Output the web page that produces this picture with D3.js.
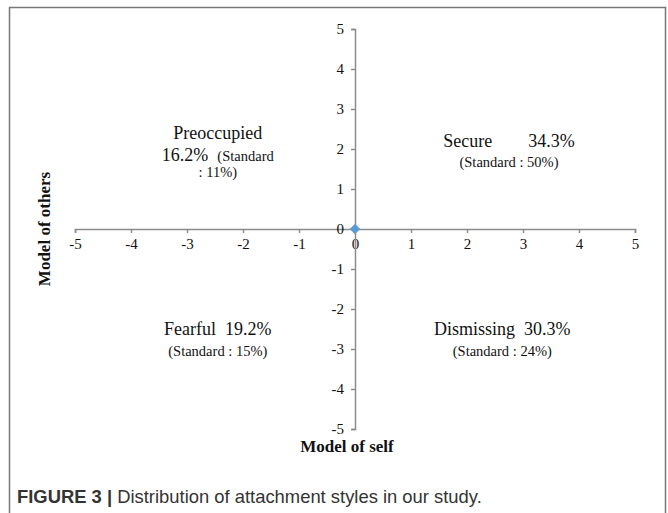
<!DOCTYPE html>
<html lang="en">
<head>
<meta charset="UTF-8">
<title>Attachment styles</title>
<style>
body { margin: 0; background: #fff; }
.serif { font-family: 'Liberation Serif', 'Times New Roman', serif; fill: #111; }
.caption { font-family: 'Liberation Sans', Arial, sans-serif; fill: #333; }
</style>
</head>
<body>
<div id="vis"></div>
<script src="https://d3js.org/d3.v7.min.js"></script>
<script>
const xTicks = [-5, -4, -3, -2, -1, 0, 1, 2, 3, 4, 5];
const yTicks = [-5, -4, -3, -2, -1, 0, 1, 2, 3, 4, 5];
const points = [[0, 0]];
const styles = ['Preoccupied', 'Secure', 'Fearful', 'Dismissing'];
const shares = ['16.2%', '34.3%', '19.2%', '30.3%'];
const standards = ['11%', '50%', '15%', '24%'];
// where each label sits, in chart units
const labelX = [-2.45, 2.75, -2.45, 2.63];
const labelY = [2.4, 2.2, -2.5, -2.5];

const width = 668;
const height = 513;

let svg = d3.select("#vis").append("svg")
    .attr("width", width)
    .attr("height", height);

svg.append("rect")
    .attr("x", 9.5).attr("y", 7.5)
    .attr("width", 656).attr("height", 520)
    .attr("fill", "none")
    .attr("stroke", "#777")
    .attr("stroke-width", 1.5);

let xScale = d3.scaleLinear().domain([-5, 5]).range([75, 635]);
let yScale = d3.scaleLinear().domain([-5, 5]).range([429, 29]);

let xAxis = svg.append("g")
    .attr("transform", "translate(0," + yScale(0) + ")")
    .call(d3.axisBottom(xScale).tickValues(xTicks).tickSize(4).tickSizeOuter(4).tickPadding(5).tickFormat(d => String(d)));

let yAxis = svg.append("g")
    .attr("transform", "translate(" + xScale(0) + ",0)")
    .call(d3.axisLeft(yScale).tickValues(yTicks).tickSize(4).tickSizeOuter(4).tickPadding(7).tickFormat(d => String(d)));

svg.selectAll(".domain, .tick line")
    .attr("stroke", "#8c8c8c")
    .attr("stroke-width", 1.5);
svg.selectAll(".tick text")
    .style("font-family", "'Liberation Serif', 'Times New Roman', serif")
    .style("font-size", "15px")
    .style("fill", "#111");

svg.selectAll(".pt")
    .data(points)
    .enter().append("path")
    .attr("class", "pt")
    .attr("d", d3.symbol().type(d3.symbolDiamond2).size(70))
    .attr("transform", d => "translate(" + xScale(d[0]) + "," + yScale(d[1]) + ")")
    .attr("fill", "#5b9bd5");

// quadrant labels
function lineAt(i, dy, txt, size) {
  svg.append("text")
    .attr("class", "serif")
    .attr("x", xScale(labelX[i]))
    .attr("y", yScale(labelY[i]) + dy)
    .attr("text-anchor", "middle")
    .style("font-size", size + "px")
    .text(txt);
}
// Preoccupied (three lines)
lineAt(0, 6, styles[0], 18);
let pre = svg.append("text")
    .attr("class", "serif")
    .attr("x", xScale(labelX[0]))
    .attr("y", yScale(labelY[0]) + 28)
    .attr("text-anchor", "middle")
    .attr("xml:space", "preserve");
pre.append("tspan").style("font-size", "18px").text(shares[0] + "  ");
pre.append("tspan").style("font-size", "14.5px").text("(Standard");
lineAt(0, 44, ": " + standards[0] + ")", 14.5);
// Secure
svg.append("text")
    .attr("class", "serif")
    .attr("x", xScale(labelX[1]))
    .attr("y", yScale(labelY[1]) + 6)
    .attr("text-anchor", "middle")
    .attr("xml:space", "preserve")
    .style("font-size", "18px")
    .text(styles[1] + "        " + shares[1]);
lineAt(1, 26, "(Standard : " + standards[1] + ")", 14.5);
// Fearful and Dismissing
[2, 3].forEach(function(i) {
  svg.append("text")
    .attr("class", "serif")
    .attr("x", xScale(labelX[i]))
    .attr("y", yScale(labelY[i]) + 6)
    .attr("text-anchor", "middle")
    .attr("xml:space", "preserve")
    .style("font-size", "18px")
    .text(styles[i] + "  " + shares[i]);
  lineAt(i, 27, "(Standard : " + standards[i] + ")", 14.5);
});

svg.append("text")
    .attr("class", "serif")
    .attr("x", 347).attr("y", 452)
    .attr("text-anchor", "middle")
    .style("font-size", "17px")
    .style("font-weight", "bold")
    .text("Model of self");

svg.append("text")
    .attr("class", "serif")
    .attr("transform", "translate(50,229) rotate(-90)")
    .attr("text-anchor", "middle")
    .style("font-size", "17px")
    .style("font-weight", "bold")
    .text("Model of others");

let cap = svg.append("text")
    .attr("class", "caption")
    .attr("x", 17).attr("y", 503)
    .style("font-size", "18.4px");
cap.append("tspan").style("font-weight", "bold").text("FIGURE 3 | ");
cap.append("tspan").text("Distribution of attachment styles in our study.");
</script>
</body>
</html>
